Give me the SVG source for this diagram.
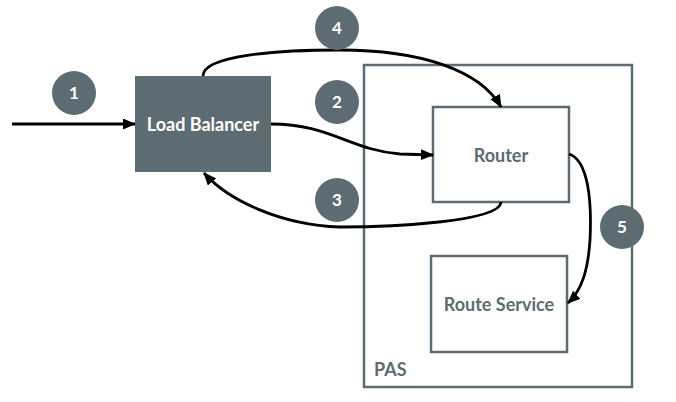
<svg xmlns="http://www.w3.org/2000/svg" width="676" height="402" viewBox="0 0 676 402">
<style>
.lbl{font-family:Lato,"Liberation Sans",sans-serif;font-weight:bold;font-size:18px;fill:#5d6b73;text-anchor:middle}
.box{fill:#fff;stroke:#5d6b73;stroke-width:2.5}
.badge circle{fill:#5d6b73}
.badge text{font-family:Lato,"Liberation Sans",sans-serif;font-weight:bold;font-size:17px;fill:#fff;text-anchor:middle}
.conn{fill:none;stroke:#000;stroke-width:2.8;marker-end:url(#ah)}
</style>
<defs>
<marker id="ah" viewBox="0 0 13 11" refX="12" refY="5.5" markerWidth="13" markerHeight="11" markerUnits="userSpaceOnUse" orient="auto">
<path d="M0,0 L13,5.5 L0,11 Z" fill="#000"/>
</marker>
</defs>
<rect width="676" height="402" fill="#fff"/>
<g id="pas">
<rect class="box" x="364" y="65" width="268" height="322"/>
<text class="lbl" x="374" y="376" style="text-anchor:start">PAS</text>
</g>
<g id="load-balancer">
<rect x="135" y="76" width="136" height="96" fill="#5d6b73"/>
<text class="lbl" x="203" y="131" style="fill:#fff">Load Balancer</text>
</g>
<g id="router">
<rect class="box" x="433" y="107" width="136" height="95"/>
<text class="lbl" x="501" y="162">Router</text>
</g>
<g id="route-service">
<rect class="box" x="431" y="256" width="136" height="96"/>
<text class="lbl" x="499" y="311">Route Service</text>
</g>
<g id="connectors">
<path class="conn" d="M12,124 L135,124"/>
<path class="conn" d="M203,76 C203,55 280,50 340,50 C420,50 480,70 501,107"/>
<path class="conn" d="M271,124 C330,124 350,150 400,154 L433,155"/>
<path class="conn" d="M501,202 C500,222 390,227 340,227 C280,225 228,200 204,173"/>
<path class="conn" d="M569,154 C588,160 592,200 590,240 C588,270 582,290 568,303"/>
</g>
<g id="badges">
<g class="badge" id="b1"><circle cx="74" cy="93" r="22"/><text x="74" y="99">1</text></g>
<g class="badge" id="b2"><circle cx="337" cy="102" r="22"/><text x="337" y="108">2</text></g>
<g class="badge" id="b3"><circle cx="337" cy="200" r="22"/><text x="337" y="206">3</text></g>
<g class="badge" id="b4"><circle cx="337" cy="28" r="22"/><text x="337" y="34">4</text></g>
<g class="badge" id="b5"><circle cx="622" cy="227" r="22"/><text x="622" y="233">5</text></g>
</g>
</svg>
